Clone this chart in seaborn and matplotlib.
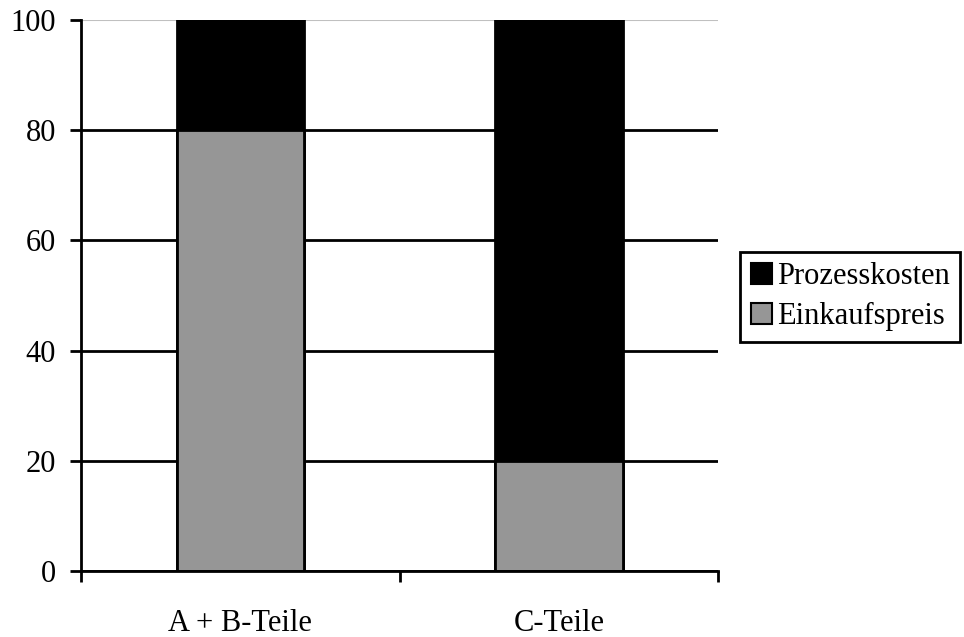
import matplotlib
matplotlib.use("Agg")
import matplotlib.pyplot as plt
import seaborn as sns
import pandas as pd
from matplotlib.patches import Patch

categories = ["A + B-Teile", "C-Teile"]
einkaufspreis = [80, 20]
prozesskosten = [20, 80]
series_names = ["Prozesskosten", "Einkaufspreis"]
y_ticks = [0, 20, 40, 60, 80, 100]

sns.set_theme(style="white")
plt.rcParams["font.family"] = ["Liberation Serif", "DejaVu Serif"]

df = pd.DataFrame({
    "Kategorie": categories,
    "Einkaufspreis": einkaufspreis,
    "Gesamt": [e + p for e, p in zip(einkaufspreis, prozesskosten)],
})

fig = plt.figure(figsize=(9.64, 6.37), dpi=100)
ax = fig.add_axes([0.084, 0.1036, 0.661, 0.865])

black = "#000000"
grey = "#969696"

# stacked bars: full height in black, purchase price share in grey on top
sns.barplot(data=df, x="Kategorie", y="Gesamt", color=black, width=0.4,
            edgecolor=black, linewidth=2, ax=ax, zorder=3)
sns.barplot(data=df, x="Kategorie", y="Einkaufspreis", color=grey, width=0.4,
            edgecolor=black, linewidth=2, ax=ax, zorder=3)
for p in ax.patches:
    p.set_facecolor(p.get_facecolor()[:3])

ax.set_xlim(-0.5, 1.5)
ax.set_ylim(0, 100)
ax.set_xlabel("")
ax.set_ylabel("")

ax.set_yticks(y_ticks)
ax.set_yticklabels([str(v) for v in y_ticks])
ax.yaxis.grid(True, color=black, linewidth=2, zorder=0)
ax.set_axisbelow(True)
ax.get_ygridlines()[-1].set_color("#c0c0c0")
ax.get_ygridlines()[-1].set_linewidth(1.5)

# category boundaries as major ticks, labels at the centers
ax.set_xticks([-0.5, 0.5, 1.5])
ax.set_xticklabels(["", "", ""])
ax.set_xticks([0, 1], minor=True)
ax.set_xticklabels(categories, minor=True)
ax.tick_params(axis="x", which="major", direction="out", length=8, width=2,
               color=black, bottom=True)
ax.tick_params(axis="x", which="minor", length=0, pad=27, labelsize=22,
               labelcolor=black)
ax.tick_params(axis="y", direction="out", length=8, width=2, color=black,
               left=True, pad=10, labelsize=22, labelcolor=black)

for side in ["top", "right"]:
    ax.spines[side].set_visible(False)
for side in ["left", "bottom"]:
    ax.spines[side].set_color(black)
    ax.spines[side].set_linewidth(2)
    ax.spines[side].set_zorder(4)

handles = [Patch(facecolor=black, edgecolor=black, linewidth=1.5),
           Patch(facecolor=grey, edgecolor=black, linewidth=1.5)]
leg = fig.legend(handles, series_names, loc="upper left",
                 bbox_to_anchor=(0.768, 0.605), fontsize=22, frameon=True,
                 fancybox=False, handlelength=0.7, handleheight=0.7,
                 handletextpad=0.15, borderpad=0.35, labelspacing=0.35,
                 borderaxespad=0)
leg.get_frame().set_edgecolor(black)
leg.get_frame().set_linewidth(2)
leg.get_frame().set_alpha(1)
for t in leg.get_texts():
    t.set_color(black)

fig.savefig("out.png", dpi=100, facecolor="white")
